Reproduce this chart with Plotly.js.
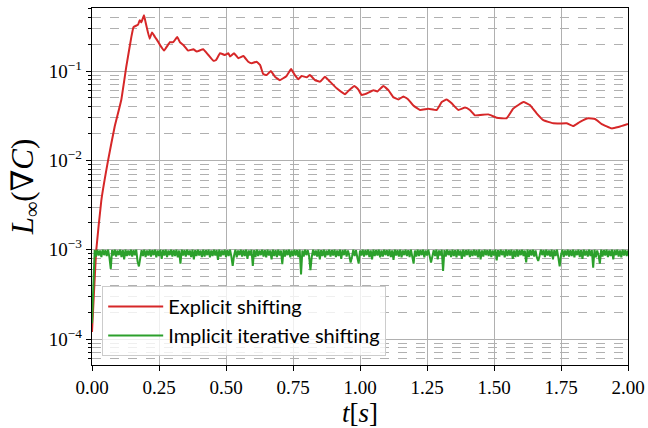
<!DOCTYPE html>
<html>
<head>
<meta charset="utf-8">
<script src="https://cdn.plot.ly/plotly-3.0.1.min.js"></script>
<style>html,body{margin:0;padding:0;background:#fff;}#chart{width:648px;height:428px;}</style>
</head>
<body>
<div id="chart"></div>
<script>
// Explicit shifting (red)
const redT = [0, 0.016, 0.035, 0.060, 0.0845, 0.109, 0.128, 0.147, 0.155, 0.172, 0.178, 0.184, 0.194, 0.201, 0.215, 0.224, 0.235, 0.248, 0.254, 0.269, 0.291, 0.303, 0.318, 0.328, 0.341, 0.359, 0.378, 0.391, 0.415, 0.434, 0.453, 0.463, 0.478, 0.496, 0.509, 0.515, 0.530, 0.546, 0.565, 0.583, 0.596, 0.614, 0.627, 0.639, 0.652, 0.667, 0.683, 0.701, 0.726, 0.743, 0.757, 0.770, 0.782, 0.801, 0.813, 0.832, 0.851, 0.869, 0.888, 0.913, 0.944, 0.957, 0.979, 0.994, 1.006, 1.025, 1.050, 1.065, 1.087, 1.106, 1.124, 1.143, 1.162, 1.180, 1.199, 1.224, 1.255, 1.286, 1.305, 1.323, 1.342, 1.367, 1.392, 1.410, 1.429, 1.479, 1.510, 1.547, 1.572, 1.610, 1.634, 1.659, 1.684, 1.721, 1.746, 1.771, 1.796, 1.821, 1.852, 1.877, 1.902, 1.939, 1.964, 2.0];
const redV = [1.2e-4, 1.0e-3, 3.6e-3, 1.0e-2, 0.0238, 0.047, 0.112, 0.242, 0.31, 0.33, 0.37, 0.35, 0.42, 0.34, 0.23, 0.27, 0.24, 0.21, 0.195, 0.17, 0.21, 0.21, 0.24, 0.21, 0.195, 0.169, 0.175, 0.165, 0.175, 0.151, 0.13, 0.133, 0.158, 0.151, 0.158, 0.145, 0.158, 0.139, 0.147, 0.127, 0.122, 0.127, 0.117, 0.0925, 0.090, 0.100, 0.086, 0.079, 0.088, 0.105, 0.090, 0.081, 0.088, 0.085, 0.090, 0.079, 0.076, 0.086, 0.076, 0.064, 0.055, 0.060, 0.068, 0.062, 0.054, 0.056, 0.061, 0.059, 0.068, 0.061, 0.051, 0.048, 0.052, 0.048, 0.041, 0.0366, 0.0378, 0.0366, 0.045, 0.048, 0.0435, 0.0366, 0.039, 0.0366, 0.0319, 0.0327, 0.030, 0.0296, 0.038, 0.045, 0.0416, 0.0336, 0.0282, 0.026, 0.0259, 0.026, 0.0242, 0.027, 0.0296, 0.029, 0.0255, 0.0228, 0.0236, 0.0255];

// Implicit iterative shifting (green), sampled every 0.005 s, values in units of 1e-4
const greenDt = 0.005;
const greenV4 = [
  1.5, 4.5, 9.9, 8.4, 10.0, 8.6, 9.8, 8.3, 10.0, 8.7, 9.9, 8.5, 10.0, 8.2, 6.1, 9.9, 8.6, 10.0, 8.4, 9.8,
  8.7, 10.0, 8.3, 9.9, 7.8, 10.0, 8.5, 9.8, 8.6, 10.0, 8.4, 9.9, 8.7, 10.0, 7.4, 6.5, 8.2, 9.9, 8.5, 10.0,
  8.3, 9.8, 8.6, 10.0, 8.4, 9.9, 8.7, 10.0, 8.2, 9.8, 8.5, 10.0, 7.9, 9.9, 8.6, 10.0, 8.3, 9.8, 8.7, 10.0,
  8.4, 9.9, 8.5, 10.0, 8.2, 9.8, 7.0, 10.0, 8.6, 9.9, 8.4, 10.0, 8.7, 9.8, 8.3, 10.0, 7.8, 9.9, 8.5, 10.0,
  8.6, 9.8, 8.3, 10.0, 8.4, 9.9, 8.7, 10.0, 8.2, 9.8, 8.5, 10.0, 8.6, 9.9, 7.7, 10.0, 8.4, 9.8, 8.7, 10.0,
  8.3, 9.9, 8.5, 10.0, 8.4, 6.6, 8.6, 10.0, 8.2, 9.8, 8.7, 10.0, 8.4, 9.9, 8.5, 10.0, 7.9, 9.8, 8.6, 10.0,
  6.6, 9.9, 8.3, 10.0, 8.5, 9.8, 8.7, 10.0, 8.4, 9.9, 8.2, 10.0, 8.6, 9.8, 7.8, 10.0, 8.5, 9.9, 8.3, 10.0,
  8.6, 9.8, 6.9, 10.0, 8.4, 9.9, 8.7, 10.0, 8.2, 9.8, 8.5, 10.0, 8.6, 9.9, 8.3, 10.0, 5.3, 9.8, 8.4, 10.0,
  8.7, 9.9, 8.5, 5.9, 8.3, 10.0, 8.6, 9.8, 8.4, 10.0, 7.8, 9.9, 8.5, 10.0, 8.2, 9.8, 8.7, 10.0, 8.4, 9.9,
  8.6, 10.0, 8.3, 9.8, 8.5, 10.0, 7.9, 9.9, 8.7, 10.0, 8.4, 9.8, 8.6, 7.2, 8.3, 10.0, 8.5, 9.9, 8.2, 7.0,
  9.8, 8.6, 10.0, 8.4, 9.9, 8.7, 10.0, 8.3, 9.8, 7.8, 10.0, 8.5, 9.9, 8.6, 10.0, 8.2, 9.8, 8.4, 10.0, 8.7,
  9.9, 8.5, 10.0, 8.3, 9.8, 7.7, 10.0, 8.6, 9.9, 8.4, 10.0, 8.2, 9.8, 8.7, 10.0, 8.5, 9.9, 8.3, 10.0, 8.6,
  7.0, 9.8, 8.4, 10.0, 8.5, 9.9, 8.7, 10.0, 8.2, 9.8, 8.6, 10.0, 8.3, 7.2, 8.4, 9.9, 8.5, 10.0, 7.8, 9.8,
  8.6, 10.0, 5.8, 9.9, 8.4, 10.0, 8.7, 9.8, 8.3, 10.0, 8.5, 9.9, 8.2, 10.0, 8.6, 9.8, 7.9, 10.0, 8.4, 9.9,
  8.7, 10.0, 8.3, 9.8, 8.5, 10.0, 8.6, 9.9, 8.2, 10.0, 7.8, 9.8, 8.4, 10.0, 8.7, 9.9, 8.5, 10.0, 8.3, 9.8,
  8.6, 10.0, 7.6, 9.9, 8.4, 10.0, 8.7, 9.8, 8.2, 10.0, 8.5, 9.9, 8.6, 10.0, 7.9, 9.8, 8.3, 10.0, 8.4, 9.9,
  8.7, 10.0, 8.5, 9.8, 7.2, 10.0, 8.3, 9.9, 8.6, 10.0, 8.4, 9.8, 8.2, 7.5, 8.5, 10.0, 8.7, 9.9, 8.3, 10.0,
  8.6, 9.8, 8.4, 10.0, 7.8, 9.9, 8.5, 10.0, 8.2, 6.5, 8.7, 10.0, 8.3, 9.8, 8.6, 10.0, 8.4, 9.9, 8.5, 10.0,
  8.2, 9.8, 8.7, 10.0, 8.3, 9.9, 7.9, 10.0, 8.6, 9.8, 8.4, 10.0, 8.5, 9.9, 6.3, 10.0, 8.2, 9.8, 8.7, 7.0,
  10.0, 8.4, 9.9, 8.6, 10.0, 8.3, 9.8, 8.5, 10.0, 7.8, 9.9, 8.7, 10.0, 8.4, 9.8, 8.2, 10.0, 8.6, 9.9, 8.5,
  9.8];

const xTickVals = [0, 0.25, 0.5, 0.75, 1.0, 1.25, 1.5, 1.75, 2.0];
const xTickText = ['0.00', '0.25', '0.50', '0.75', '1.00', '1.25', '1.50', '1.75', '2.00'];
const yTickVals = [1e-4, 1e-3, 1e-2, 1e-1];
const yTickText = ['10<sup>−4</sup>', '10<sup>−3</sup>', '10<sup>−2</sup>', '10<sup>−1</sup>'];
const seriesNames = ['Explicit shifting', 'Implicit iterative shifting'];

const greenT = greenV4.map((_, i) => i * greenDt);
const greenV = greenV4.map(v => v * 1e-4);

const serif = 'Liberation Serif, DejaVu Serif, serif';
const sans = 'Lato, DejaVu Sans, sans-serif';

const traces = [
  {x: redT, y: redV, type: 'scatter', mode: 'lines', name: seriesNames[0],
   line: {color: '#d62728', width: 2, shape: 'spline', smoothing: 0.3}},
  {x: greenT, y: greenV, type: 'scatter', mode: 'lines', name: seriesNames[1],
   line: {color: '#2ca02c', width: 2}}
];

const layout = {
  width: 648, height: 428,
  margin: {l: 92, r: 20, t: 8, b: 63},
  paper_bgcolor: '#fff', plot_bgcolor: '#fff',
  showlegend: true,
  legend: {x: 0.019, y: 0.025, xanchor: 'left', yanchor: 'bottom',
    bgcolor: 'rgba(255,255,255,0.8)', bordercolor: '#cccccc', borderwidth: 1,
    itemwidth: 55,
    font: {family: sans, size: 20, color: '#000'}},
  xaxis: {
    range: [0, 2], tickvals: xTickVals, ticktext: xTickText,
    showline: true, linecolor: '#000', linewidth: 1.2, mirror: true,
    ticks: 'outside', ticklen: 5, tickcolor: '#000',
    showgrid: true, gridcolor: '#b0b0b0', gridwidth: 1, zeroline: false,
    tickfont: {family: serif, size: 19, color: '#000'},
    title: {text: '<i>t</i>[<i>s</i>]', font: {family: serif, size: 27, color: '#000'}, standoff: 8}
  },
  yaxis: {
    type: 'log', range: [-4.29, -0.295], tickvals: yTickVals, ticktext: yTickText,
    showline: true, linecolor: '#000', linewidth: 1.2, mirror: true,
    ticks: 'outside', ticklen: 5, tickcolor: '#000',
    showgrid: true, gridcolor: '#b0b0b0', gridwidth: 1, zeroline: false,
    tickfont: {family: serif, size: 19, color: '#000'},
    minor: {dtick: 'D1', showgrid: true, gridcolor: '#b0b0b0', griddash: 'dash', gridwidth: 1,
      ticks: 'outside', ticklen: 3, tickcolor: '#000'},
    title: {text: '<i>L</i><sub>∞</sub>(∇<i>C</i>)', font: {family: serif, size: 31, color: '#000'}, standoff: 6}
  }
};

Plotly.newPlot('chart', traces, layout, {displayModeBar: false, staticPlot: true});
</script>
</body>
</html>
